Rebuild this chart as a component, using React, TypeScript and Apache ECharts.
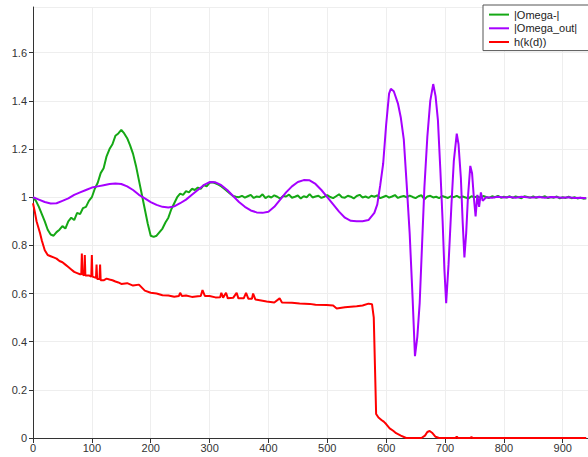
import React, { useEffect, useRef } from "react";
import * as echarts from "echarts";

const seriesNames = ["|Omega-|", "|Omega_out|", "h(k(d))"];

const greenX = [
  0, 5, 10, 15, 20, 25, 30, 35, 40, 45, 50, 55, 60, 65, 70, 75, 80, 85, 90, 95,
  100, 105, 110, 115, 120, 125, 130, 135, 140, 145, 150, 155, 160, 165, 170, 175, 180, 185, 190, 195,
  200, 205, 210, 215, 220, 225, 230, 235, 240, 245, 250, 255, 260, 265, 270, 275, 280, 285, 290, 295,
  300, 305, 310, 315, 320, 325, 330, 335, 340, 345,
  350, 355, 360, 365, 370, 375, 380, 385, 390, 395,
  400, 405, 410, 415, 420, 425, 430, 435, 440, 445,
  450, 455, 460, 465, 470, 475, 480, 485, 490, 495,
  500, 505, 510, 515, 520, 525, 530, 535, 540, 545,
  550, 555, 560, 565, 570, 575, 580, 585, 590, 595,
  600, 605, 610, 615, 620, 625, 630, 635, 640, 645,
  650, 655, 660, 665, 670, 675, 680, 685, 690, 695,
  700, 705, 710, 715, 720, 725, 730, 735, 740, 745,
  750, 755, 760, 765, 770, 775, 780, 785, 790, 795,
  800, 805, 810, 815, 820, 825, 830, 835, 840, 845,
  850, 855, 860, 865, 870, 875, 880, 885, 890, 895,
  900, 905, 910, 915, 920, 925, 930, 935, 940,
];
const greenY = [
  1.0, 0.985, 0.96, 0.93, 0.9, 0.865, 0.845, 0.84, 0.855, 0.865, 0.88, 0.87, 0.9, 0.915, 0.905, 0.935, 0.93, 0.955, 0.96, 0.985,
  1.0, 1.035, 1.06, 1.1, 1.12, 1.17, 1.2, 1.22, 1.255, 1.265, 1.28, 1.265, 1.245, 1.215, 1.18, 1.13, 1.07, 1.01, 0.95, 0.89,
  0.84, 0.835, 0.84, 0.855, 0.87, 0.895, 0.915, 0.95, 0.975, 1.0, 1.015, 1.01, 1.025, 1.02, 1.035, 1.03, 1.04, 1.035, 1.05, 1.045,
  1.06, 1.062, 1.058, 1.052, 1.045, 1.035, 1.025, 1.015, 1.005, 1.002,
  1.0, 1.006, 0.998, 1.004, 1.01, 0.997, 1.003, 1.001, 1.012, 0.996,
  1.004, 0.999, 1.008, 1.002, 0.994, 1.005, 1.003, 1.011, 0.998, 1.002,
  1.007, 0.995, 1.004, 1.0, 1.013, 0.999, 1.003, 1.006, 0.997, 1.002,
  1.009, 1.001, 0.996, 1.004, 1.012, 1.0, 0.998, 1.006, 1.002, 0.995,
  1.005, 1.01, 0.999, 1.003, 0.997, 1.006, 1.002, 1.008, 0.996, 1.001,
  1.006, 0.998, 1.003, 1.009, 0.997, 1.002, 1.005, 0.999, 1.007, 1.001,
  0.996, 1.004, 1.008, 0.992, 1.003, 1.006, 0.999, 1.002, 0.996, 1.005,
  1.001, 0.997, 1.004, 1.0, 1.006, 0.998, 1.003, 0.999, 0.995, 1.004,
  1.0, 1.003, 0.998, 1.005, 1.001, 0.997, 1.004, 1.0, 1.006, 0.998,
  1.002, 0.999, 1.004, 0.997, 1.003, 1.0, 0.996, 1.004, 1.001, 0.998,
  1.003, 0.997, 1.002, 1.0, 1.004, 0.996, 1.001, 0.998, 1.003, 0.995,
  1.0, 0.997, 1.002, 0.996, 1.0, 0.995, 0.998, 0.994, 0.996,
];

const purpleX = [
  0, 10, 20, 30, 40, 50, 60, 70, 80, 90, 100, 110, 120, 130, 140, 150, 160, 170, 180, 190,
  200, 210, 220, 230, 240, 250, 260, 270, 280, 290, 300, 310, 320, 330, 340, 350, 360, 370, 380, 390,
  400, 410, 420, 430, 440, 450, 460, 470, 480, 490, 500, 510, 520, 530, 540, 550, 560, 570, 580, 585,
  590, 595, 600, 605, 608, 613, 620, 625, 630, 635, 640, 645, 649, 653, 657, 661, 665, 670, 675, 680,
  684, 688, 692, 696, 699, 702, 706, 711, 715, 720, 723, 727, 730, 733, 736, 739, 743, 746, 749, 752,
  755, 758, 761, 764, 770, 780, 790, 800, 810, 820, 830, 840, 850, 860, 870, 880, 890, 900, 910, 920,
  930, 940,
];
const purpleY = [
  1.0, 0.99, 0.98, 0.974, 0.975, 0.985, 0.995, 1.01, 1.02, 1.03, 1.04, 1.045, 1.05, 1.055, 1.057, 1.055, 1.045, 1.03, 1.01, 0.995,
  0.98, 0.968, 0.96, 0.957, 0.962, 0.975, 0.99, 1.01, 1.03, 1.05, 1.063, 1.062, 1.05, 1.03, 1.005, 0.98, 0.96, 0.945, 0.937, 0.935,
  0.94, 0.96, 0.99, 1.02, 1.045, 1.063, 1.071, 1.07, 1.055, 1.03, 1.0, 0.97, 0.94, 0.915, 0.902, 0.9, 0.9, 0.905, 0.935, 0.97,
  1.05, 1.14, 1.3, 1.43, 1.45, 1.44, 1.39, 1.33, 1.24, 1.05, 0.85, 0.58, 0.34, 0.42, 0.56, 0.8, 1.04, 1.25, 1.4, 1.47,
  1.42, 1.32, 1.12, 0.9, 0.7, 0.56, 0.72, 0.97, 1.15, 1.264, 1.22, 1.08, 0.9, 0.75, 0.85, 1.0, 1.13, 1.1, 1.0, 0.92,
  1.01, 0.96, 1.02, 0.985, 1.0, 0.998, 1.002, 0.999, 1.001, 0.998, 1.002, 1.0, 0.999, 1.001, 0.998, 1.001, 1.0, 0.998, 1.0, 0.997,
  0.998, 0.996,
];

const redX = [
  0, 3, 6, 9, 12, 15, 20, 25, 30, 35, 40, 45, 50, 55, 60, 65, 70, 75, 80, 82,
  83, 84, 87, 88, 89, 95, 99, 100, 101, 107, 108, 109, 113, 114, 115, 120, 125, 130, 135, 140,
  145, 150, 160, 170, 180, 190, 200, 210, 220, 230, 240, 248, 250, 253, 260, 270, 280, 285, 288, 292,
  300, 310, 318, 320, 323, 328, 331, 340, 346, 349, 358, 362, 366, 372, 374, 378, 390, 397, 410, 419,
  423, 440, 453, 470, 480, 499, 510, 516, 530, 550, 560, 570, 576, 579, 581, 583, 587, 592, 596, 600,
  606, 612, 617, 625, 634, 650, 660, 666, 670, 674, 678, 684, 690, 718, 720, 722, 743, 745, 747, 760,
  940,
];
const redY = [
  0.975, 0.94, 0.9, 0.875, 0.85, 0.82, 0.78, 0.76, 0.755, 0.75, 0.745, 0.735, 0.73, 0.72, 0.71, 0.7, 0.69, 0.685, 0.68, 0.68,
  0.766, 0.68, 0.675, 0.76, 0.675, 0.675, 0.67, 0.76, 0.67, 0.665, 0.72, 0.66, 0.66, 0.72, 0.655, 0.655, 0.662, 0.658, 0.655, 0.65,
  0.646, 0.64, 0.643, 0.633, 0.637, 0.612, 0.603, 0.6, 0.593, 0.592, 0.587, 0.59, 0.603, 0.59, 0.592, 0.586, 0.589, 0.59, 0.614, 0.59,
  0.59, 0.584, 0.585, 0.603, 0.583, 0.603, 0.58, 0.582, 0.603, 0.58, 0.58, 0.603, 0.578, 0.578, 0.6, 0.575, 0.57, 0.567, 0.563, 0.58,
  0.563, 0.562, 0.559, 0.557, 0.553, 0.552, 0.55, 0.538, 0.543, 0.547, 0.55, 0.558, 0.556, 0.5, 0.3, 0.1, 0.085, 0.075, 0.068, 0.058,
  0.04, 0.03, 0.02, 0.01, 0.0, 0.0, 0.0, 0.01, 0.025, 0.029, 0.022, 0.005, 0.0, 0.0, 0.006, 0.0, 0.0, 0.004, 0.0, 0.0,
  0.0,
];

const xTickInterval = 100;
const yTickInterval = 0.2;

const pairs = (xs: number[], ys: number[]) => xs.map((x, i) => [x, ys[i]]);

export default function App() {
  const ref = useRef<HTMLDivElement>(null);
  useEffect(() => {
    if (!ref.current) return;
    const chart = echarts.init(ref.current, undefined, { renderer: "svg" });
    const font = "Liberation Sans, Arial, sans-serif";
    chart.setOption({
      animation: false,
      backgroundColor: "#ffffff",
      grid: { left: 33, top: 7, right: 0, bottom: 19, containLabel: false },
      legend: {
        orient: "vertical",
        left: 483,
        top: 5,
        padding: [4, 60, 3, 5],
        itemWidth: 20,
        itemHeight: 14,
        itemGap: 2.5,
        borderColor: "#555",
        borderWidth: 1,
        backgroundColor: "#fff",
        itemStyle: { opacity: 0 },
        textStyle: { fontFamily: font, fontSize: 11, color: "#222" },
        data: seriesNames,
      },
      xAxis: {
        type: "value",
        min: 0,
        max: 943,
        interval: xTickInterval,
        axisLine: { show: true, onZero: false, lineStyle: { color: "#333", width: 1 } },
        axisTick: { show: true, length: 5, lineStyle: { color: "#333" } },
        axisLabel: { showMaxLabel: false, margin: 4, fontFamily: font, fontSize: 11, color: "#333" },
        splitLine: { show: true, lineStyle: { color: "#eeeeee", width: 1 } },
      },
      yAxis: {
        type: "value",
        min: 0,
        max: 1.79,
        interval: yTickInterval,
        axisLine: { show: true, onZero: false, lineStyle: { color: "#333", width: 1 } },
        axisTick: { show: true, length: 4, lineStyle: { color: "#333" } },
        axisLabel: { showMaxLabel: false, margin: 6, fontFamily: font, fontSize: 11, color: "#333" },
        splitLine: { show: true, lineStyle: { color: "#eeeeee", width: 1 } },
      },
      series: [
        {
          name: seriesNames[0],
          type: "line",
          symbol: "none",
          data: pairs(greenX, greenY),
          lineStyle: { color: "#15a815", width: 2 },
          itemStyle: { color: "#15a815" },
        },
        {
          name: seriesNames[1],
          type: "line",
          symbol: "none",
          data: pairs(purpleX, purpleY),
          lineStyle: { color: "#a600ff", width: 2 },
          itemStyle: { color: "#a600ff" },
        },
        {
          name: seriesNames[2],
          type: "line",
          symbol: "none",
          data: pairs(redX, redY),
          lineStyle: { color: "#ff0000", width: 2 },
          itemStyle: { color: "#ff0000" },
        },
      ],
    });
    return () => chart.dispose();
  }, []);
  return (
    <div
      ref={ref}
      style={{ position: "fixed", left: 0, top: 0, width: 588, height: 457 }}
    />
  );
}
